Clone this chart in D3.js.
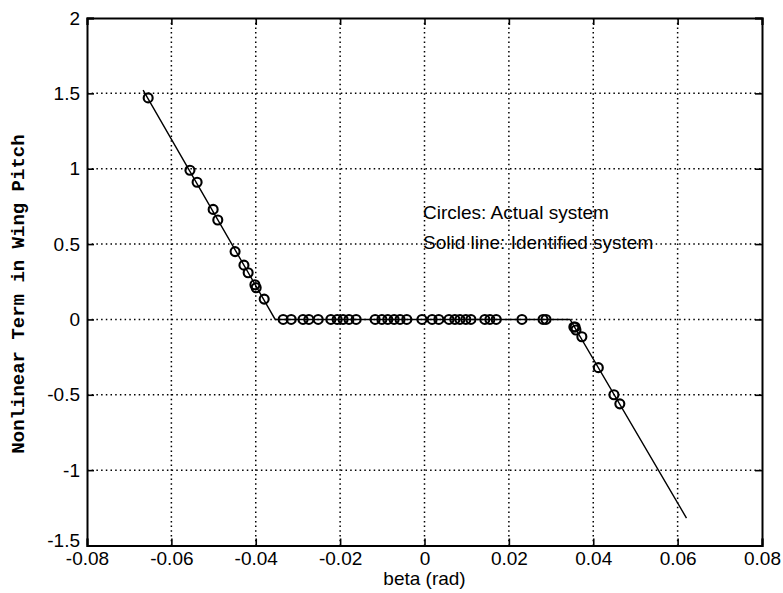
<!DOCTYPE html>
<html>
    <head>
        <meta charset="utf-8">
        <style>
          body { margin: 0; background: #fff; }
          text { fill: #000; }
        </style>
    </head>
    <body>
        <script src="https://d3js.org/d3.v7.min.js"></script>
        <script>
          // identified system (solid line)
          const lineBeta = [-0.0667, -0.0354, 0.0345, 0.0621];
          const lineValue = [1.522, 0, 0, -1.318];

          // actual system (circles)
          const circleBeta = [
            -0.0655, -0.0556, -0.0539, -0.0501, -0.0490, -0.0449, -0.0428, -0.0418, -0.0402, -0.0399, -0.0380,
            -0.0335, -0.0316, -0.0288, -0.0274, -0.0252, -0.0222, -0.0207, -0.0193, -0.0179, -0.0162,
            -0.0117, -0.0101, -0.0087, -0.0072, -0.0058, -0.0042, -0.0006, 0.0018, 0.0034, 0.0058,
            0.0072, 0.0084, 0.0098, 0.0110, 0.0143, 0.0155, 0.0170, 0.0231, 0.0281, 0.0288,
            0.0354, 0.0357, 0.0359, 0.0373, 0.0412, 0.0449, 0.0463
          ];
          const circleValue = [
            1.47, 0.99, 0.91, 0.73, 0.66, 0.45, 0.36, 0.31, 0.23, 0.21, 0.135,
            0, 0, 0, 0, 0, 0, 0, 0, 0, 0,
            0, 0, 0, 0, 0, 0, 0, 0, 0, 0,
            0, 0, 0, 0, 0, 0, 0, 0, 0, 0,
            -0.05, -0.05, -0.07, -0.115, -0.32, -0.50, -0.56
          ];

          const xTicks = [-0.08, -0.06, -0.04, -0.02, 0, 0.02, 0.04, 0.06, 0.08];
          const xTickLabels = ['-0.08', '-0.06', '-0.04', '-0.02', '0', '0.02', '0.04', '0.06', '0.08'];
          const yTicks = [-1.5, -1, -0.5, 0, 0.5, 1, 1.5, 2];
          const yTickLabels = ['-1.5', '-1', '-0.5', '0', '0.5', '1', '1.5', '2'];

          const notes = ['Circles: Actual system', 'Solid line: Identified system'];

          function makeChart() {
            const margin = { top: 18, right: 21, bottom: 47.5, left: 87 };
            const width = 783 - margin.left - margin.right;
            const height = 593 - margin.top - margin.bottom;

            const svg = d3.select('body').append('svg')
              .attr('width', 783)
              .attr('height', 593)
              .style('font-family', '"Liberation Sans", Arial, sans-serif');

            const g = svg.append('g')
              .attr('transform', `translate(${margin.left},${margin.top})`);

            const x = d3.scaleLinear().domain([-0.08, 0.08]).range([0, width]);
            const y = d3.scaleLinear().domain([-1.5, 2]).range([height, 0]);

            // dotted grid
            const grid = g.append('g')
              .attr('stroke', '#000')
              .attr('stroke-width', 1.5)
              .attr('stroke-dasharray', '1.5,3.2');
            grid.selectAll('.gx')
              .data(xTicks.slice(1, -1))
              .join('line')
              .attr('x1', d => x(d)).attr('x2', d => x(d))
              .attr('y1', 0).attr('y2', height);
            grid.selectAll('.gy')
              .data(yTicks.slice(1, -1))
              .join('line')
              .attr('y1', d => y(d)).attr('y2', d => y(d))
              .attr('x1', 0).attr('x2', width);

            // axes with inward ticks
            g.append('g')
              .attr('transform', `translate(0,${height})`)
              .call(d3.axisBottom(x).tickValues(xTicks).tickSize(-7).tickPadding(6)
                .tickFormat((d, i) => xTickLabels[i]));
            const yAxis = g.append('g')
              .call(d3.axisLeft(y).tickValues(yTicks).tickSize(-7).tickPadding(7)
                .tickFormat((d, i) => yTickLabels[i]));
            g.append('g')
              .call(d3.axisTop(x).tickValues(xTicks).tickSize(-7).tickFormat(''));
            g.append('g')
              .attr('transform', `translate(${width},0)`)
              .call(d3.axisRight(y).tickValues(yTicks).tickSize(-7).tickFormat(''));

            g.selectAll('.domain').attr('stroke', '#000').attr('stroke-width', 2);
            g.selectAll('.tick line').attr('stroke', '#000').attr('stroke-width', 1.6);
            g.selectAll('.tick text')
              .attr('fill', '#000')
              .style('font-size', '19px')
              .style('font-family', '"Liberation Sans", Arial, sans-serif');
            yAxis.selectAll('.tick text').filter((d, i) => i === 0).attr('dy', '0.05em');

            // identified system line
            const lineData = lineBeta.map((b, i) => [b, lineValue[i]]);
            g.append('path')
              .datum(lineData)
              .attr('fill', 'none')
              .attr('stroke', '#000')
              .attr('stroke-width', 1.4)
              .attr('d', d3.line().x(d => x(d[0])).y(d => y(d[1])));

            // actual system circles
            g.append('g')
              .selectAll('circle')
              .data(circleBeta.map((b, i) => [b, circleValue[i]]))
              .join('circle')
              .attr('cx', d => x(d[0]))
              .attr('cy', d => y(d[1]))
              .attr('r', 4.5)
              .attr('fill', 'none')
              .attr('stroke', '#000')
              .attr('stroke-width', 2.1);

            // notes
            g.selectAll('.note')
              .data(notes)
              .join('text')
              .attr('x', 423 - margin.left)
              .attr('y', (d, i) => 219 - margin.top + i * 30)
              .style('font-size', '19px')
              .text(d => d);

            // axis labels
            svg.append('text')
              .attr('x', margin.left + width / 2)
              .attr('y', 585)
              .attr('text-anchor', 'middle')
              .style('font-size', '19px')
              .text('beta (rad)');

            svg.append('text')
              .attr('transform', 'translate(24,294) rotate(-90)')
              .attr('text-anchor', 'middle')
              .style('font-family', '"Liberation Mono", "Courier New", monospace')
              .style('font-size', '19px')
              .style('font-weight', 'bold')
              .text('Nonlinear Term in Wing Pitch');
          }

          makeChart();
        </script>
    </body>
</html>
